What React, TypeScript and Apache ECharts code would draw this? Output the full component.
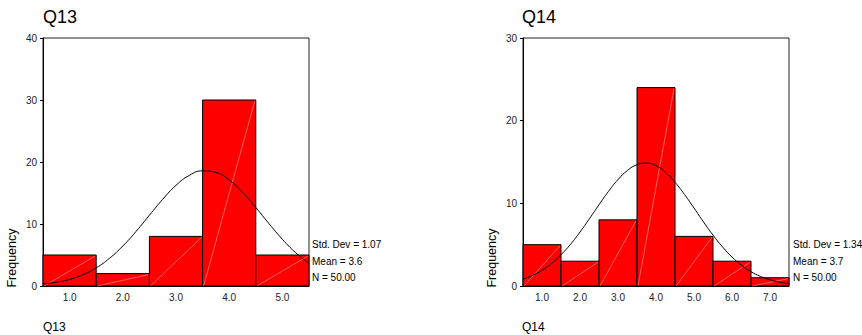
import React, { useEffect, useRef } from "react";
import * as echarts from "echarts";

// ---- Data ----
const Q13_CATEGORIES = ["1.0", "2.0", "3.0", "4.0", "5.0"];
const Q13_FREQ = [5, 2, 8, 30, 5];
const Q13_CURVE_X = [0.5, 0.75, 1.0, 1.25, 1.5, 1.75, 2.0, 2.25, 2.5, 2.75, 3.0, 3.25, 3.5, 3.75, 4.0, 4.25, 4.5, 4.75, 5.0, 5.25, 5.5];
const Q13_CURVE_Y = [0.32, 0.6, 1.07, 1.82, 2.93, 4.47, 6.45, 8.81, 11.41, 13.98, 16.23, 17.84, 18.57, 18.31, 17.1, 15.12, 12.66, 10.04, 7.54, 5.37, 3.62];
const Q13_STATS = ["Std. Dev = 1.07", "Mean = 3.6", "N = 50.00"];

const Q14_CATEGORIES = ["1.0", "2.0", "3.0", "4.0", "5.0", "6.0", "7.0"];
const Q14_FREQ = [5, 3, 8, 24, 6, 3, 1];
const Q14_CURVE_X = [0.5, 0.75, 1.0, 1.25, 1.5, 1.75, 2.0, 2.25, 2.5, 2.75, 3.0, 3.25, 3.5, 3.75, 4.0, 4.25, 4.5, 4.75, 5.0, 5.25, 5.5, 5.75, 6.0, 6.25, 6.5, 6.75, 7.0, 7.25, 7.5];
const Q14_CURVE_Y = [0.83, 1.28, 1.9, 2.73, 3.78, 5.05, 6.53, 8.15, 9.83, 11.45, 12.87, 13.98, 14.67, 14.87, 14.55, 13.75, 12.55, 11.07, 9.43, 7.75, 6.16, 4.73, 3.5, 2.51, 1.73, 1.16, 0.75, 0.46, 0.28];
const Q14_STATS = ["Std. Dev = 1.34", "Mean = 3.7", "N = 50.00"];

const FONT = "'Liberation Sans', Arial, sans-serif";

function renderBar(params: any, api: any) {
  const idx = api.value(0);
  const v = api.value(1);
  const top = api.coord([idx, v]);
  const bottom = api.coord([idx, 0]);
  const w = api.size([1, 0])[0];
  const x = top[0] - w / 2;
  return {
    type: "group",
    children: [
      {
        type: "rect",
        shape: { x, y: top[1], width: w, height: bottom[1] - top[1] },
        style: { fill: "#ff0000", stroke: "#000", lineWidth: 1 },
      },
      {
        type: "line",
        shape: { x1: x + 1, y1: bottom[1], x2: x + w - 1, y2: top[1] + 1 },
        style: { stroke: "rgba(255,190,190,0.85)", lineWidth: 0.6 },
      },
    ],
  };
}

function buildAxes(gridIndex: number, cats: string[], xmax: number, ymax: number) {
  return {
    x: [
      {
        type: "category",
        gridIndex,
        data: cats,
        boundaryGap: true,
        axisLine: { show: true, lineStyle: { color: "#000", width: 1 } },
        axisTick: { show: false },
        axisLabel: { color: "#222", fontSize: 10, fontFamily: FONT, margin: 6 },
        splitLine: { show: false },
      },
      {
        type: "value",
        gridIndex,
        min: 0.5,
        max: xmax,
        show: false,
      },
    ],
    y: {
      type: "value",
      gridIndex,
      min: 0,
      max: ymax,
      interval: 10,
      axisLine: { show: true, lineStyle: { color: "#000", width: 1 } },
      axisTick: { show: true, length: 3, lineStyle: { color: "#000" } },
      axisLabel: { color: "#222", fontSize: 10, fontFamily: FONT, margin: 6 },
      splitLine: { show: false },
    },
  };
}

function textEl(text: string, x: number, y: number, size: number, extra: any = {}) {
  return {
    type: "text",
    x,
    y,
    ...extra,
    style: {
      text,
      fontSize: size,
      fontFamily: FONT,
      fill: "#000",
      textVerticalAlign: "middle",
      ...(extra.style || {}),
    },
  };
}

export default function App() {
  const ref = useRef<HTMLDivElement>(null);
  useEffect(() => {
    document.body.style.margin = "0";
    if (!ref.current) return;
    const chart = echarts.init(ref.current, null, { renderer: "svg" });
    const a1 = buildAxes(0, Q13_CATEGORIES, 5.5, 40);
    const a2 = buildAxes(1, Q14_CATEGORIES, 7.5, 30);
    const graphics: any[] = [
      textEl("Q13", 43, 17, 18),
      textEl("Q14", 522, 17, 18),
      textEl("Q13", 43, 327, 12),
      textEl("Q14", 522, 327, 12),
      textEl("Frequency", 12, 258, 12.5, { rotation: Math.PI / 2, style: { textAlign: "center" } }),
      textEl("Frequency", 492, 258, 12.5, { rotation: Math.PI / 2, style: { textAlign: "center" } }),
    ];
    const statY = [244, 261, 277];
    Q13_STATS.forEach((s, i) => graphics.push(textEl(s, 312, statY[i], 10)));
    Q14_STATS.forEach((s, i) => graphics.push(textEl(s, 793, statY[i], 10)));

    chart.setOption({
      animation: false,
      grid: [
        { left: 43, top: 38, width: 266, height: 248, show: true, borderColor: "#222", borderWidth: 1, backgroundColor: "#fff" },
        { left: 523, top: 38, width: 266, height: 248, show: true, borderColor: "#222", borderWidth: 1, backgroundColor: "#fff" },
      ],
      xAxis: [...a1.x, ...a2.x],
      yAxis: [a1.y, a2.y],
      series: [
        {
          type: "custom",
          xAxisIndex: 0,
          yAxisIndex: 0,
          renderItem: renderBar,
          data: Q13_FREQ.map((v, i) => [i, v]),
          z: 2,
        },
        {
          type: "line",
          xAxisIndex: 1,
          yAxisIndex: 0,
          data: Q13_CURVE_X.map((x, i) => [x, Q13_CURVE_Y[i]]),
          showSymbol: false,
          symbol: "none",
          smooth: true,
          lineStyle: { color: "#000", width: 1 },
          z: 5,
        },
        {
          type: "custom",
          xAxisIndex: 2,
          yAxisIndex: 1,
          renderItem: renderBar,
          data: Q14_FREQ.map((v, i) => [i, v]),
          z: 2,
        },
        {
          type: "line",
          xAxisIndex: 3,
          yAxisIndex: 1,
          data: Q14_CURVE_X.map((x, i) => [x, Q14_CURVE_Y[i]]),
          showSymbol: false,
          symbol: "none",
          smooth: true,
          lineStyle: { color: "#000", width: 1 },
          z: 5,
        },
      ],
      graphic: graphics,
    });
    return () => chart.dispose();
  }, []);
  return <div ref={ref} style={{ width: 862, height: 335 }} />;
}
